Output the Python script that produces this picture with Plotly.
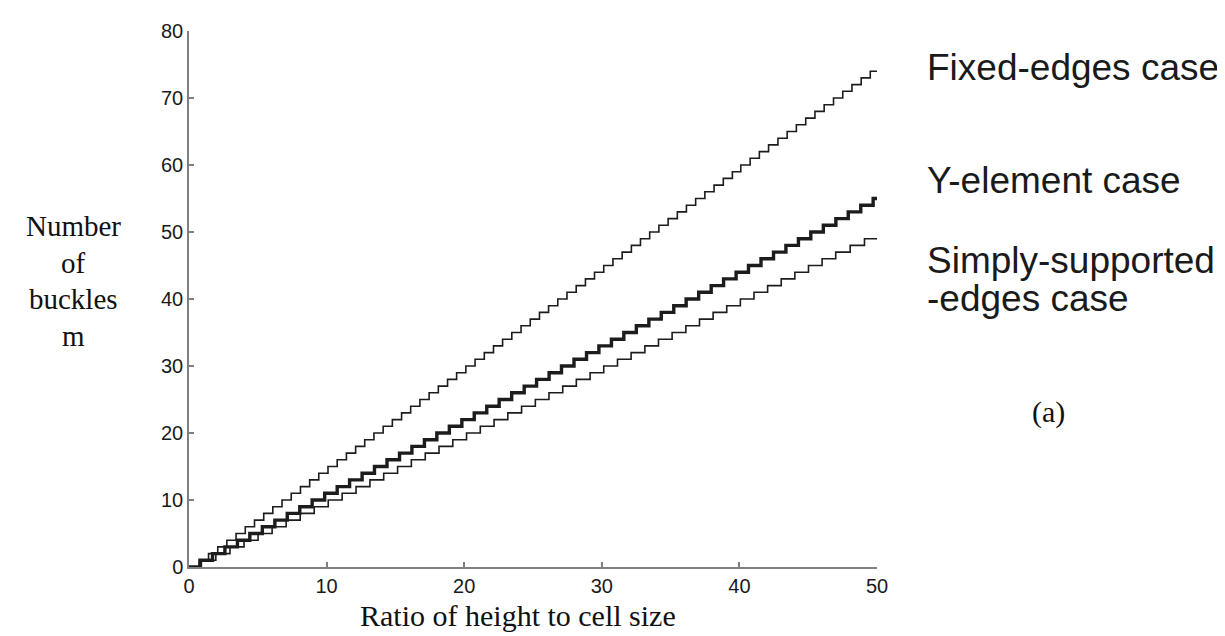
import plotly.graph_objects as go

# x positions (ratio of height to cell size) at which the number of buckles m increases by one
fixed_steps = [0.75, 1.42, 2.09, 2.75, 3.42, 4.09, 4.76, 5.43, 6.09, 6.76,
               7.43, 8.10, 8.77, 9.43, 10.10, 10.77, 11.44, 12.11, 12.77, 13.44,
               14.11, 14.78, 15.45, 16.11, 16.78, 17.45, 18.12, 18.79, 19.45, 20.12,
               20.79, 21.46, 22.13, 22.79, 23.46, 24.13, 24.80, 25.47, 26.13, 26.80,
               27.47, 28.14, 28.81, 29.47, 30.14, 30.81, 31.48, 32.15, 32.81, 33.48,
               34.15, 34.82, 35.49, 36.15, 36.82, 37.49, 38.16, 38.83, 39.49, 40.10,
               40.78, 41.45, 42.12, 42.80, 43.47, 44.14, 44.82, 45.49, 46.16, 46.84,
               47.51, 48.18, 48.85, 49.51]

yelem_steps = [0.80, 1.71, 2.61, 3.52, 4.42, 5.33, 6.24, 7.14, 8.05, 8.95,
               9.86, 10.77, 11.67, 12.58, 13.48, 14.39, 15.30, 16.20, 17.11, 18.01,
               18.92, 19.83, 20.73, 21.64, 22.54, 23.45, 24.36, 25.26, 26.17, 27.07,
               27.98, 28.89, 29.79, 30.70, 31.60, 32.51, 33.42, 34.32, 35.23, 36.13,
               37.04, 37.95, 38.85, 39.76, 40.66, 41.57, 42.48, 43.38, 44.29, 45.19,
               46.10, 47.01, 47.91, 48.82, 49.72]

simply_steps = [0.90, 1.95, 2.98, 4.00, 5.02, 6.04, 7.06, 8.08, 9.10, 10.12,
                11.13, 12.14, 13.15, 14.15, 15.16, 16.16, 17.17, 18.17, 19.17, 20.17,
                21.17, 22.17, 23.17, 24.17, 25.17, 26.16, 27.16, 28.15, 29.15, 30.14,
                31.14, 32.13, 33.13, 34.12, 35.11, 36.11, 37.10, 38.09, 39.08, 40.07,
                41.06, 42.05, 43.04, 44.03, 45.02, 46.01, 47.00, 48.05, 49.09]

x_max = 50
x_ticks = [0, 10, 20, 30, 40, 50]
y_ticks = [0, 10, 20, 30, 40, 50, 60, 70, 80]

series = [
    ("Fixed-edges case", fixed_steps, 1.6),
    ("Y-element case", yelem_steps, 3.4),
    ("Simply-supported-edges case", simply_steps, 1.6),
]

fig = go.Figure()
for name, steps, w in series:
    xs = [0] + steps + [x_max]
    ys = list(range(len(steps) + 1)) + [len(steps)]
    fig.add_trace(go.Scatter(x=xs, y=ys, mode="lines", name=name,
                             line=dict(shape="hv", color="#1c1c1c", width=w),
                             showlegend=False))

L, R, T, B = 181, 356, 18, 77
W, H = 1225, 636
pw, ph = W - L - R, H - T - B


def px(xp):
    return (xp - L) / pw


def py(yp):
    return (H - B - yp) / ph


axis_common = dict(showline=True, linecolor="#808080", linewidth=1.5, ticks="inside",
                   ticklen=5, tickwidth=1.5, tickcolor="#808080", showgrid=False,
                   zeroline=False, mirror=False,
                   tickfont=dict(family="Liberation Sans, Arial", size=20, color="#1a1a1a"))

fig.update_xaxes(range=[0, 50], tickvals=x_ticks, **axis_common)
fig.update_yaxes(range=[0, 80], tickvals=y_ticks, **axis_common)

ann = []
serif = dict(family="Liberation Serif, Times New Roman", size=29, color="#111111")
serif_big = dict(family="Liberation Serif, Times New Roman", size=30, color="#111111")
sans = dict(family="Liberation Sans, Arial", size=37, color="#1a1a1a")
for txt, yy in [("Number", 215), ("of", 252), ("buckles", 289), ("m", 326)]:
    ann.append(dict(text=txt, x=px(65.5), y=py(yy), xref="paper", yref="paper",
                    xanchor="center", yanchor="middle", showarrow=False, font=serif))
ann.append(dict(text="Ratio of height to cell size", x=px(510), y=py(608), xref="paper",
                yref="paper", xanchor="center", yanchor="middle", showarrow=False, font=serif_big))
for txt, yy in [("Fixed-edges case", 55), ("Y-element case", 169),
                ("Simply-supported", 250), ("-edges case", 288)]:
    ann.append(dict(text=txt, x=px(917), y=py(yy), xref="paper", yref="paper",
                    xanchor="left", yanchor="middle", showarrow=False, font=sans))
ann.append(dict(text="(a)", x=px(1040), y=py(403), xref="paper", yref="paper",
                xanchor="center", yanchor="middle", showarrow=False, font=serif_big))

fig.update_layout(width=W, height=H, margin=dict(l=L, r=R, t=T, b=B),
                  plot_bgcolor="white", paper_bgcolor="white", annotations=ann)

fig.write_html("out.html")
